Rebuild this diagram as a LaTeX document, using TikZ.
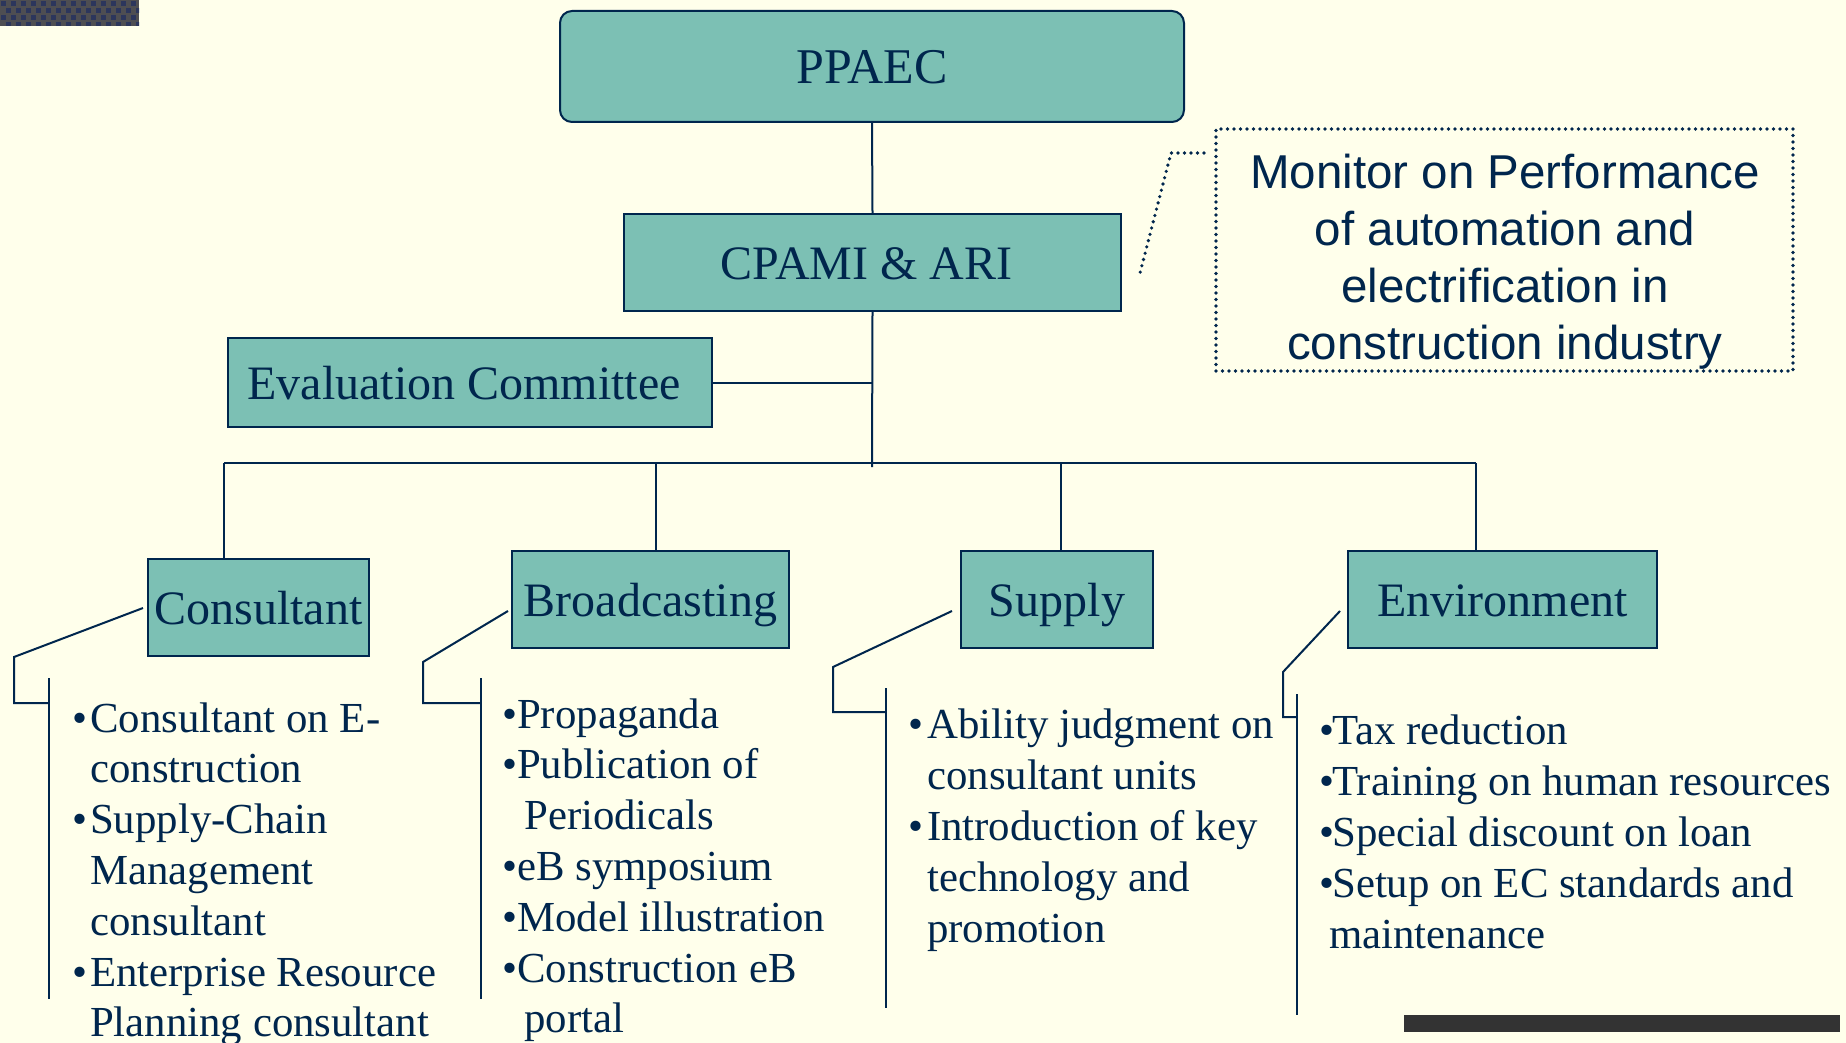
\documentclass[tikz,border=0pt]{standalone}
\usepackage{fontspec}
\setmainfont{Liberation Serif}
\newfontfamily\calloutfont{Liberation Sans}
\usetikzlibrary{calc}
\definecolor{navy}{RGB}{0,38,77}
\definecolor{tealfill}{RGB}{124,192,180}
\definecolor{bgc}{RGB}{255,255,235}
\definecolor{patgray}{RGB}{78,78,82}
\definecolor{patblue}{RGB}{44,54,92}
\definecolor{barc}{RGB}{51,51,51}
\newcommand{\lb}[2]{\hbox{\makebox[#1][l]{•}#2}}
\newcommand{\lc}[2]{\hbox{\hspace*{#1}#2}}
\tikzset{
  box/.style={draw=navy, line width=2pt, fill=tealfill, text=navy, inner sep=0pt,
    font=\fontsize{48}{58}\selectfont, text height=33pt, text depth=0pt},
  conn/.style={draw=navy, line width=2pt},
  dotline/.style={draw=navy, line width=3.6pt, line cap=round, dash pattern=on 0pt off 6.5pt},
  listtext/.style={anchor=base west, inner sep=0pt, text=navy},
}
\begin{document}
\begin{tikzpicture}[x=1pt,y=-1pt]
\useasboundingbox (0,0) rectangle (1846,1043);
\fill[bgc] (0,0) rectangle (1846,1043);
% top-left pattern
\begin{scope}
\clip (0,0) rectangle (139,26);
\fill[patgray] (0,0) rectangle (139,26);
\foreach \j in {0,1,2,3} {
  \foreach \i in {0,...,14} {
    \pgfmathsetmacro{\xx}{1+\i*10+mod(\j,2)*5}
    \pgfmathsetmacro{\yy}{1+\j*7}
    \fill[patblue] (\xx,\yy) rectangle ++(5,5);
  }
}
\end{scope}
% bottom-right bar
\fill[barc] (1404,1015) rectangle (1840,1032);

% boxes
\node[box, rounded corners=12pt, minimum width=624pt, minimum height=111pt,
  font=\fontsize{50}{60}\selectfont, text height=34pt] (ppaec) at (872,66.5) {PPAEC};
\node[box, minimum width=497pt, minimum height=97pt] (cpami) at (872.5,262.5) {\hspace*{-12pt}CPAMI \& ARI};
\node[box, minimum width=484pt, minimum height=89pt] (eval) at (470,382.5) {\hspace*{-12pt}Evaluation Committee};
\node[box, minimum width=221pt, minimum height=97pt] (cons) at (258.5,607.5) {Consultant};
\node[box, minimum width=277pt, minimum height=97pt] (broad) at (650.5,599.5) {Broadcasting};
\node[box, minimum width=192pt, minimum height=97pt] (supply) at (1057,599.5) {Supply};
\node[box, minimum width=309pt, minimum height=97pt] (env) at (1502.5,599.5) {Environment};

% callout
\node[dotline, minimum width=577pt, minimum height=242pt, inner sep=0pt] (mon) at (1504.5,250) {};
\node[anchor=base, inner sep=0pt, text=navy] (montext) at (1505,189)
  {\calloutfont\fontsize{47.5}{57}\selectfont\vtop{\halign{\hfil#\hfil\cr
   Monitor on Performance\cr of automation and\cr electrification in\cr construction industry\cr}}};
\coordinate (leadA) at (1204,153);
\coordinate (leadB) at (1171,153);
\coordinate (leadC) at (1140,273);
\draw[dotline] (leadA) -- (leadB) -- (leadC);

% tree connectors
\coordinate (junc) at (872,467);
\coordinate (busL) at (224,463);
\coordinate (busB) at (656,463);
\coordinate (busS) at (1061,463);
\coordinate (busR) at (1476,463);
\draw[conn] (ppaec.south) -- (cpami.north);
\draw[conn] (cpami.south) -- (junc);
\draw[conn] (eval.east) -- (eval.east -| junc);
\draw[conn] (busL) -- (busR);
\draw[conn] (busL) -- (busL |- cons.north);
\draw[conn] (busB) -- (busB |- broad.north);
\draw[conn] (busS) -- (busS |- supply.north);
\draw[conn] (busR) -- (busR |- env.north);

% brackets
\draw[conn] (143,608) -- (14,657) -- (14,703) -- (49,703);
\draw[conn] (49,678) -- (49,999);
\draw[conn] (508,611) -- (423,662) -- (423,703) -- (481,703);
\draw[conn] (481,678) -- (481,999);
\draw[conn] (952,611) -- (833,667) -- (833,712) -- (886,712);
\draw[conn] (886,688) -- (886,1008);
\draw[conn] (1340,611) -- (1283,672) -- (1283,717) -- (1297,717);
\draw[conn] (1297,694) -- (1297,1015);

% lists
\node[listtext] (lcons) at (72,732) {\fontsize{42.8}{50.8}\selectfont\vtop{%
  \lb{18pt}{Consultant on E-}\lc{18pt}{construction}%
  \lb{18pt}{Supply-Chain}\lc{18pt}{Management}\lc{18pt}{consultant}%
  \lb{18pt}{Enterprise Resource}\lc{18pt}{Planning consultant}}};
\node[listtext] (lbroad) at (502,728) {\fontsize{42.8}{50.8}\selectfont\vtop{%
  \lb{15pt}{Propaganda}\lb{15pt}{Publication of}\lc{22pt}{Periodicals}%
  \lb{15pt}{eB symposium}\lb{15pt}{Model illustration}%
  \lb{15pt}{Construction eB}\lc{22pt}{portal}}};
\node[listtext] (lsupply) at (908,738) {\fontsize{42.8}{51}\selectfont\vtop{%
  \lb{19pt}{Ability judgment on}\lc{19pt}{consultant units}%
  \lb{19pt}{Introduction of key}\lc{19pt}{technology and}\lc{19pt}{promotion}}};
\node[listtext] (lenv) at (1319,744) {\fontsize{42.8}{51.2}\selectfont\vtop{%
  \lb{13pt}{Tax reduction}\lb{13pt}{Training on human resources}%
  \lb{13pt}{Special discount on loan}\lb{13pt}{Setup on EC standards and}%
  \lc{10pt}{maintenance}}};
\end{tikzpicture}
\end{document}
